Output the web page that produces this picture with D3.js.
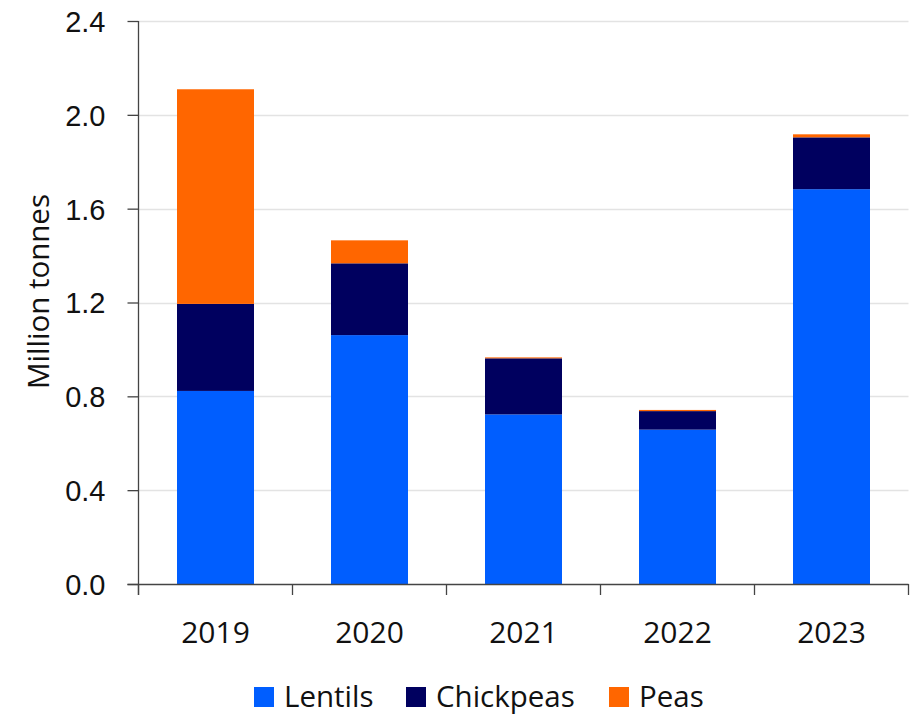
<!DOCTYPE html>
<html>
<head>
<meta charset="utf-8">
<script src="https://cdn.jsdelivr.net/npm/d3@7"></script>
<style>
  html, body { margin: 0; padding: 0; background: #fff; }
  svg { display: block; font-family: "Open Sans", "Noto Sans", sans-serif; }
</style>
</head>
<body>
<svg id="chart" width="915" height="715"></svg>
<script>
const years = ["2019", "2020", "2021", "2022", "2023"];
const seriesNames = ["Lentils", "Chickpeas", "Peas"];
const lentils = [0.823, 1.061, 0.723, 0.658, 1.683];
const chickpeas = [0.371, 0.306, 0.239, 0.079, 0.221];
const peas = [0.915, 0.098, 0.004, 0.005, 0.013];
const colors = ["#005EFF", "#00005F", "#FF6600"];
const yTicks = [0, 0.4, 0.8, 1.2, 1.6, 2.0, 2.4];
const yLabel = "Million tonnes";

(function () {
const rows = years.map((yr, i) => ({ year: yr, Lentils: lentils[i], Chickpeas: chickpeas[i], Peas: peas[i] }));
const stacked = d3.stack().keys(seriesNames)(rows);

const svg = d3.select("#chart");
const pLeft = 138.5, pRight = 908.5, pTop = 21, pBottom = 584;

const x = d3.scaleBand().domain(years).range([pLeft, pRight]).padding(0);
const y = d3.scaleLinear().domain([0, 2.4]).range([pBottom, pTop]);
const color = d3.scaleOrdinal().domain(seriesNames).range(colors);

// gridlines
svg.append("g").selectAll("line").data(yTicks.filter(t => t > 0)).join("line")
  .attr("x1", pLeft).attr("x2", pRight)
  .attr("y1", d => Math.round(y(d)) + 0.5).attr("y2", d => Math.round(y(d)) + 0.5)
  .attr("stroke", "#e3e3e3").attr("stroke-width", 1.5);

// bars
const bw = x.bandwidth() * 0.5;
svg.append("g").selectAll("g").data(stacked).join("g")
  .attr("fill", d => color(d.key))
  .selectAll("rect").data(d => d).join("rect")
  .attr("x", d => x(d.data.year) + (x.bandwidth() - bw) / 2)
  .attr("width", bw)
  .attr("y", d => y(d[1]))
  .attr("height", d => y(d[0]) - y(d[1]));

// y axis
const yAxis = d3.axisLeft(y).tickValues(yTicks).tickFormat(d3.format(".1f")).tickSize(11).tickPadding(22);
const gy = svg.append("g").attr("transform", `translate(${pLeft},0)`).call(yAxis);
gy.select(".domain").remove();
gy.append("line").attr("x1", 0).attr("x2", 0).attr("y1", pTop).attr("y2", pBottom + 11).attr("stroke", "#444").attr("stroke-width", 1.3);
gy.selectAll(".tick line").attr("stroke", "#444").attr("stroke-width", 1.3);
gy.selectAll(".tick text").attr("fill", "#111").style("font-size", "29px").attr("dy", "0.36em");

// x axis
const xTickPos = years.map(yv => x(yv)).concat([pRight]);
svg.append("line").attr("x1", pLeft - 11).attr("x2", pRight).attr("y1", pBottom + 0.5).attr("y2", pBottom + 0.5)
  .attr("stroke", "#444").attr("stroke-width", 1.3);
svg.append("g").selectAll("line").data(xTickPos).join("line")
  .attr("x1", d => d).attr("x2", d => d).attr("y1", pBottom).attr("y2", pBottom + 11)
  .attr("stroke", "#444").attr("stroke-width", 1.3);
svg.append("g").selectAll("text").data(years).join("text")
  .attr("x", d => x(d) + x.bandwidth() / 2).attr("y", 643)
  .attr("text-anchor", "middle").attr("fill", "#111").style("font-size", "30px")
  .text(d => d);

// y label
svg.append("text")
  .attr("transform", `translate(49,${(pTop + pBottom) / 2 - 11}) rotate(-90)`)
  .attr("text-anchor", "middle").attr("fill", "#111").style("font-size", "29.5px")
  .text(yLabel);

// legend
const legendItems = [
  { name: "Lentils", sx: 254 },
  { name: "Chickpeas", sx: 406 },
  { name: "Peas", sx: 609 }
];
const lg = svg.append("g");
legendItems.forEach(it => {
  lg.append("rect").attr("x", it.sx).attr("y", 687).attr("width", 20).attr("height", 20).attr("fill", color(it.name));
  lg.append("text").attr("x", it.sx + 30).attr("y", 707).attr("fill", "#111").style("font-size", "29.5px").text(it.name);
});
})();
</script>
</body>
</html>
